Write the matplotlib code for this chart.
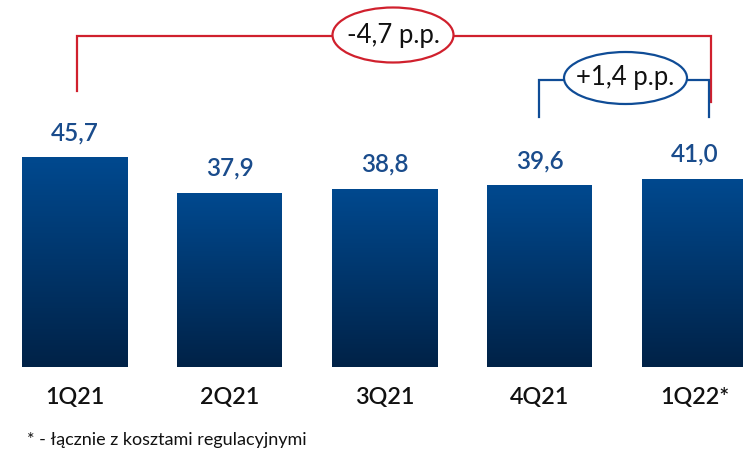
import numpy as np
import matplotlib
matplotlib.use("Agg")
import matplotlib.pyplot as plt
from matplotlib.patches import Ellipse, Rectangle
from matplotlib.colors import LinearSegmentedColormap

categories = ["1Q21", "2Q21", "3Q21", "4Q21", "1Q22*"]
values = [45.7, 37.9, 38.8, 39.6, 41.0]
value_labels = ["45,7", "37,9", "38,8", "39,6", "41,0"]
change_total = "-4,7 p.p."
change_qoq = "+1,4 p.p."
footnote = "* - łącznie z kosztami regulacyjnymi"

W, H = 743, 453
fig = plt.figure(figsize=(W / 100, H / 100), dpi=100)
ax = fig.add_axes([0, 0, 1, 1])

# pixel -> data helpers (layout only)
X0, DX = 74.5, 155.0
Y0, DY = 367.0, 4.59
def px(x):
    return (x - X0) / DX
def py(y):
    return (Y0 - y) / DY

FONT = ["Lato", "DejaVu Sans"]
bar_w = 105 / DX
cmap = LinearSegmentedColormap.from_list("g", ["#002247", "#00498f"])
grad = np.linspace(0, 1, 256).reshape(-1, 1)
for i, v in enumerate(values):
    rect = Rectangle((i - bar_w / 2, 0), bar_w, v, facecolor="none", edgecolor="none")
    ax.add_patch(rect)
    im = ax.imshow(grad, cmap=cmap, origin="lower", aspect="auto",
                   extent=[i - bar_w / 2, i + bar_w / 2, 0, v], zorder=2)
    im.set_clip_path(rect)
    ax.annotate(value_labels[i], (i, v), xytext=(0, 12.3), textcoords="offset points",
                ha="center", va="baseline", fontsize=17.5, family=FONT,
                fontweight="semibold", color="#1a4c8c")
    ax.text(i, py(404), categories[i], ha="center", va="baseline", fontsize=16.8,
            family=FONT, color="#111111", fontweight="semibold")

red = "#d0202d"
blue = "#0f4c96"
# red bracket: 1Q21 -> 1Q22
ax.plot([px(77), px(77), px(711), px(711)], [py(91), py(36), py(36), py(102)],
        color=red, lw=1.6, solid_joinstyle="miter", zorder=3)
ax.add_patch(Ellipse((px(393), py(35)), 121 / DX, 55 / DY, facecolor="white",
                     edgecolor=red, lw=1.6, zorder=4))
ax.text(px(393), py(35), change_total, ha="center", va="center", fontsize=18.5,
        family=FONT, color="#111111", zorder=5)

# blue bracket: 4Q21 -> 1Q22
ax.plot([px(539), px(539), px(709), px(709)], [py(117), py(80), py(80), py(117)],
        color=blue, lw=1.6, solid_joinstyle="miter", zorder=3)
ax.add_patch(Ellipse((px(625.5), py(78)), 123 / DX, 52 / DY, facecolor="white",
                     edgecolor=blue, lw=1.6, zorder=4))
ax.text(px(625.5), py(78), change_qoq, ha="center", va="center", fontsize=18.5,
        family=FONT, color="#111111", zorder=5)

fig.text(27 / W, (H - 445) / H, footnote, ha="left", va="baseline", fontsize=13,
         family=FONT, color="#111111")

ax.set_xlim(px(0), px(W))
ax.set_ylim(py(H), py(0))
ax.axis("off")
fig.savefig("out.png", dpi=100, facecolor="white")
